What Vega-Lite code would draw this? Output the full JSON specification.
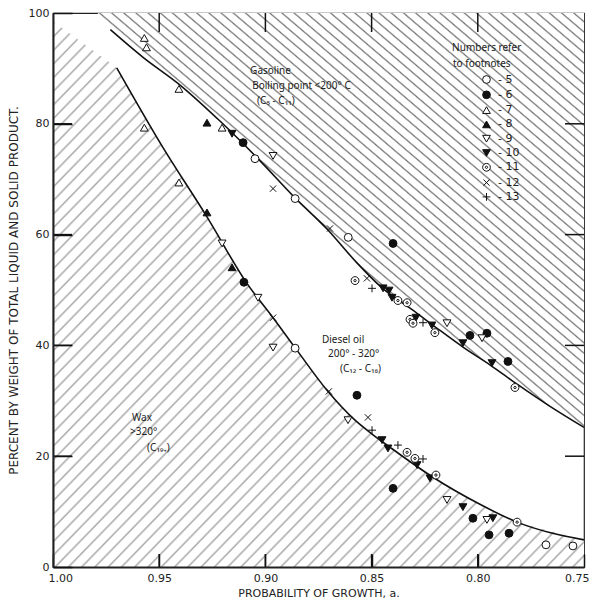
{
"$schema": "https://vega.github.io/schema/vega-lite/v6.json",
"width": 531,
"height": 554,
"autosize": {"type": "none"},
"padding": {"left": 53, "top": 13, "right": 6, "bottom": 33},
"background": "white",
"config": {"view": {"stroke": "#222", "strokeWidth": 1.2}, "font": "DejaVu Sans"},
"datasets": {
"gas": [{"x":0.979,"y":100},{"x":0.973,"y":97.0},{"x":0.9576,"y":92.0},{"x":0.9402,"y":87.0},{"x":0.9214,"y":80.5},{"x":0.9025,"y":73.3},{"x":0.887,"y":67.0},{"x":0.871,"y":61.0},{"x":0.8569,"y":54.9},{"x":0.846,"y":50.7},{"x":0.8286,"y":45.8},{"x":0.8178,"y":42.7},{"x":0.807,"y":39.7},{"x":0.7943,"y":36.5},{"x":0.7815,"y":33.0},{"x":0.766,"y":29.0},{"x":0.75,"y":25.2}],
"upper": [{"x":0.973,"y":97.0},{"x":0.9576,"y":92.0},{"x":0.9402,"y":87.0},{"x":0.9214,"y":80.5},{"x":0.9025,"y":73.3},{"x":0.887,"y":67.0},{"x":0.871,"y":61.0},{"x":0.8569,"y":54.9},{"x":0.846,"y":50.7},{"x":0.8286,"y":45.8},{"x":0.8178,"y":42.7},{"x":0.807,"y":39.7},{"x":0.7943,"y":36.5},{"x":0.7815,"y":33.0},{"x":0.766,"y":29.0},{"x":0.75,"y":25.2}],
"wax": [{"x":1.0,"y":98.5},{"x":0.970,"y":90.1},{"x":0.9482,"y":75.7},{"x":0.9275,"y":63.2},{"x":0.9087,"y":51.2},{"x":0.8964,"y":45.0},{"x":0.8851,"y":39.1},{"x":0.871,"y":31.9},{"x":0.8578,"y":26.5},{"x":0.8498,"y":24.0},{"x":0.8413,"y":21.6},{"x":0.8211,"y":16.2},{"x":0.7999,"y":11.5},{"x":0.7815,"y":8.1},{"x":0.75,"y":4.9}],
"lower": [{"x":0.970,"y":90.1},{"x":0.9482,"y":75.7},{"x":0.9275,"y":63.2},{"x":0.9087,"y":51.2},{"x":0.8964,"y":45.0},{"x":0.8851,"y":39.1},{"x":0.871,"y":31.9},{"x":0.8578,"y":26.5},{"x":0.8498,"y":24.0},{"x":0.8413,"y":21.6},{"x":0.8211,"y":16.2},{"x":0.7999,"y":11.5},{"x":0.7815,"y":8.1},{"x":0.75,"y":4.9}],
"xt": [{"v":0.95,"lo":0,"hi":100},{"v":0.9,"lo":0,"hi":100},{"v":0.85,"lo":0,"hi":100},{"v":0.8,"lo":0,"hi":100}],
"yt": [{"v":20,"l":1.0,"r":0.75},{"v":40,"l":1.0,"r":0.75},{"v":60,"l":1.0,"r":0.75},{"v":80,"l":1.0,"r":0.75}],
"pts": [
{"x":0.9049,"y":73.7,"ref":5},{"x":0.886,"y":66.5,"ref":5},{"x":0.861,"y":59.5,"ref":5},{"x":0.886,"y":39.5,"ref":5},{"x":0.7679,"y":4.0,"ref":5},{"x":0.7552,"y":3.8,"ref":5},
{"x":0.9105,"y":76.6,"ref":6},{"x":0.9101,"y":51.4,"ref":6},{"x":0.8399,"y":58.4,"ref":6},{"x":0.8569,"y":31.0,"ref":6},{"x":0.8037,"y":41.8,"ref":6},{"x":0.7957,"y":42.2,"ref":6},{"x":0.7858,"y":37.1,"ref":6},{"x":0.8399,"y":14.2,"ref":6},{"x":0.8023,"y":8.8,"ref":6},{"x":0.7947,"y":5.8,"ref":6},{"x":0.7853,"y":6.1,"ref":6},
{"x":0.957,"y":95.5,"ref":7},{"x":0.956,"y":93.8,"ref":7},{"x":0.9407,"y":86.3,"ref":7},{"x":0.957,"y":79.3,"ref":7},{"x":0.9204,"y":79.3,"ref":7},{"x":0.9407,"y":69.4,"ref":7},
{"x":0.9275,"y":80.2,"ref":8},{"x":0.9275,"y":64.0,"ref":8},{"x":0.9157,"y":54.1,"ref":8},
{"x":0.8964,"y":74.2,"ref":9},{"x":0.9204,"y":58.4,"ref":9},{"x":0.9035,"y":48.6,"ref":9},{"x":0.8964,"y":39.6,"ref":9},{"x":0.8611,"y":26.5,"ref":9},{"x":0.8145,"y":44.0,"ref":9},{"x":0.798,"y":41.3,"ref":9},{"x":0.8145,"y":12.1,"ref":9},{"x":0.7957,"y":8.5,"ref":9},
{"x":0.9157,"y":78.2,"ref":10},{"x":0.8446,"y":50.3,"ref":10},{"x":0.8418,"y":49.9,"ref":10},{"x":0.8404,"y":48.6,"ref":10},{"x":0.8291,"y":45.0,"ref":10},{"x":0.8216,"y":43.6,"ref":10},{"x":0.807,"y":40.4,"ref":10},{"x":0.7933,"y":36.8,"ref":10},{"x":0.8451,"y":22.9,"ref":10},{"x":0.8423,"y":21.4,"ref":10},{"x":0.8286,"y":18.4,"ref":10},{"x":0.8225,"y":16.0,"ref":10},{"x":0.807,"y":10.8,"ref":10},{"x":0.7929,"y":8.8,"ref":10},
{"x":0.8578,"y":51.7,"ref":11},{"x":0.8376,"y":48.1,"ref":11},{"x":0.8333,"y":47.7,"ref":11},{"x":0.8319,"y":44.7,"ref":11},{"x":0.8305,"y":44.0,"ref":11},{"x":0.8202,"y":42.3,"ref":11},{"x":0.7825,"y":32.4,"ref":11},{"x":0.8333,"y":20.7,"ref":11},{"x":0.8296,"y":19.6,"ref":11},{"x":0.8197,"y":16.6,"ref":11},{"x":0.7815,"y":8.1,"ref":11},
{"x":0.8964,"y":68.3,"ref":12},{"x":0.8522,"y":52.1,"ref":12},{"x":0.8964,"y":45.0,"ref":12},{"x":0.8701,"y":31.7,"ref":12},{"x":0.8517,"y":27.0,"ref":12},{"x":0.8696,"y":61.1,"ref":12},
{"x":0.8498,"y":50.3,"ref":13},{"x":0.8258,"y":44.1,"ref":13},{"x":0.8498,"y":24.7,"ref":13},{"x":0.8376,"y":22.0,"ref":13},{"x":0.8258,"y":19.5,"ref":13}
],
"notes": [
{"t":"Gasoline","x":0.9072,"y":89.5},
{"t":"Boiling point <200° C","x":0.9062,"y":86.9},
{"t":"(C₅ - C₁₁)","x":0.9039,"y":84.2},
{"t":"Diesel oil","x":0.8734,"y":41.0},
{"t":"200° - 320°","x":0.8705,"y":38.5},
{"t":"(C₁₂ - C₁₈)","x":0.8649,"y":35.8},
{"t":"Wax","x":0.9628,"y":26.9},
{"t":">320°","x":0.9637,"y":24.3},
{"t":"(C₁₉₊)","x":0.9557,"y":21.4},
{"t":"Numbers refer","x":0.8121,"y":93.6},
{"t":"to footnotes","x":0.8117,"y":90.8}
]
},
"layer": [
{
"data": {"name": "gas"},
"mark": {"type": "area", "interpolate": "linear", "fill": {"gradient":"linear","x1":0,"y1":1,"x2":1,"y2":0,"stops":[
{"offset":0,"color":"#fff"},{"offset":0.002,"color":"#777"},{"offset":0.004,"color":"#fff"},
{"offset":0.0125,"color":"#fff"},{"offset":0.0145,"color":"#777"},{"offset":0.0165,"color":"#fff"},
{"offset":0.025,"color":"#fff"},{"offset":0.027,"color":"#777"},{"offset":0.029,"color":"#fff"},
{"offset":0.0375,"color":"#fff"},{"offset":0.0395,"color":"#777"},{"offset":0.0415,"color":"#fff"},
{"offset":0.05,"color":"#fff"},{"offset":0.052,"color":"#777"},{"offset":0.054,"color":"#fff"},
{"offset":0.0625,"color":"#fff"},{"offset":0.0645,"color":"#777"},{"offset":0.0665,"color":"#fff"},
{"offset":0.075,"color":"#fff"},{"offset":0.077,"color":"#777"},{"offset":0.079,"color":"#fff"},
{"offset":0.0875,"color":"#fff"},{"offset":0.0895,"color":"#777"},{"offset":0.0915,"color":"#fff"},
{"offset":0.1,"color":"#fff"},{"offset":0.102,"color":"#777"},{"offset":0.104,"color":"#fff"},
{"offset":0.1125,"color":"#fff"},{"offset":0.1145,"color":"#777"},{"offset":0.1165,"color":"#fff"},
{"offset":0.125,"color":"#fff"},{"offset":0.127,"color":"#777"},{"offset":0.129,"color":"#fff"},
{"offset":0.1375,"color":"#fff"},{"offset":0.1395,"color":"#777"},{"offset":0.1415,"color":"#fff"},
{"offset":0.15,"color":"#fff"},{"offset":0.152,"color":"#777"},{"offset":0.154,"color":"#fff"},
{"offset":0.1625,"color":"#fff"},{"offset":0.1645,"color":"#777"},{"offset":0.1665,"color":"#fff"},
{"offset":0.175,"color":"#fff"},{"offset":0.177,"color":"#777"},{"offset":0.179,"color":"#fff"},
{"offset":0.1875,"color":"#fff"},{"offset":0.1895,"color":"#777"},{"offset":0.1915,"color":"#fff"},
{"offset":0.2,"color":"#fff"},{"offset":0.202,"color":"#777"},{"offset":0.204,"color":"#fff"},
{"offset":0.2125,"color":"#fff"},{"offset":0.2145,"color":"#777"},{"offset":0.2165,"color":"#fff"},
{"offset":0.225,"color":"#fff"},{"offset":0.227,"color":"#777"},{"offset":0.229,"color":"#fff"},
{"offset":0.2375,"color":"#fff"},{"offset":0.2395,"color":"#777"},{"offset":0.2415,"color":"#fff"},
{"offset":0.25,"color":"#fff"},{"offset":0.252,"color":"#777"},{"offset":0.254,"color":"#fff"},
{"offset":0.2625,"color":"#fff"},{"offset":0.2645,"color":"#777"},{"offset":0.2665,"color":"#fff"},
{"offset":0.275,"color":"#fff"},{"offset":0.277,"color":"#777"},{"offset":0.279,"color":"#fff"},
{"offset":0.2875,"color":"#fff"},{"offset":0.2895,"color":"#777"},{"offset":0.2915,"color":"#fff"},
{"offset":0.3,"color":"#fff"},{"offset":0.302,"color":"#777"},{"offset":0.304,"color":"#fff"},
{"offset":0.3125,"color":"#fff"},{"offset":0.3145,"color":"#777"},{"offset":0.3165,"color":"#fff"},
{"offset":0.325,"color":"#fff"},{"offset":0.327,"color":"#777"},{"offset":0.329,"color":"#fff"},
{"offset":0.3375,"color":"#fff"},{"offset":0.3395,"color":"#777"},{"offset":0.3415,"color":"#fff"},
{"offset":0.35,"color":"#fff"},{"offset":0.352,"color":"#777"},{"offset":0.354,"color":"#fff"},
{"offset":0.3625,"color":"#fff"},{"offset":0.3645,"color":"#777"},{"offset":0.3665,"color":"#fff"},
{"offset":0.375,"color":"#fff"},{"offset":0.377,"color":"#777"},{"offset":0.379,"color":"#fff"},
{"offset":0.3875,"color":"#fff"},{"offset":0.3895,"color":"#777"},{"offset":0.3915,"color":"#fff"},
{"offset":0.4,"color":"#fff"},{"offset":0.402,"color":"#777"},{"offset":0.404,"color":"#fff"},
{"offset":0.4125,"color":"#fff"},{"offset":0.4145,"color":"#777"},{"offset":0.4165,"color":"#fff"},
{"offset":0.425,"color":"#fff"},{"offset":0.427,"color":"#777"},{"offset":0.429,"color":"#fff"},
{"offset":0.4375,"color":"#fff"},{"offset":0.4395,"color":"#777"},{"offset":0.4415,"color":"#fff"},
{"offset":0.45,"color":"#fff"},{"offset":0.452,"color":"#777"},{"offset":0.454,"color":"#fff"},
{"offset":0.4625,"color":"#fff"},{"offset":0.4645,"color":"#777"},{"offset":0.4665,"color":"#fff"},
{"offset":0.475,"color":"#fff"},{"offset":0.477,"color":"#777"},{"offset":0.479,"color":"#fff"},
{"offset":0.4875,"color":"#fff"},{"offset":0.4895,"color":"#777"},{"offset":0.4915,"color":"#fff"},
{"offset":0.5,"color":"#fff"},{"offset":0.502,"color":"#777"},{"offset":0.504,"color":"#fff"},
{"offset":0.5125,"color":"#fff"},{"offset":0.5145,"color":"#777"},{"offset":0.5165,"color":"#fff"},
{"offset":0.525,"color":"#fff"},{"offset":0.527,"color":"#777"},{"offset":0.529,"color":"#fff"},
{"offset":0.5375,"color":"#fff"},{"offset":0.5395,"color":"#777"},{"offset":0.5415,"color":"#fff"},
{"offset":0.55,"color":"#fff"},{"offset":0.552,"color":"#777"},{"offset":0.554,"color":"#fff"},
{"offset":0.5625,"color":"#fff"},{"offset":0.5645,"color":"#777"},{"offset":0.5665,"color":"#fff"},
{"offset":0.575,"color":"#fff"},{"offset":0.577,"color":"#777"},{"offset":0.579,"color":"#fff"},
{"offset":0.5875,"color":"#fff"},{"offset":0.5895,"color":"#777"},{"offset":0.5915,"color":"#fff"},
{"offset":0.6,"color":"#fff"},{"offset":0.602,"color":"#777"},{"offset":0.604,"color":"#fff"},
{"offset":0.6125,"color":"#fff"},{"offset":0.6145,"color":"#777"},{"offset":0.6165,"color":"#fff"},
{"offset":0.625,"color":"#fff"},{"offset":0.627,"color":"#777"},{"offset":0.629,"color":"#fff"},
{"offset":0.6375,"color":"#fff"},{"offset":0.6395,"color":"#777"},{"offset":0.6415,"color":"#fff"},
{"offset":0.65,"color":"#fff"},{"offset":0.652,"color":"#777"},{"offset":0.654,"color":"#fff"},
{"offset":0.6625,"color":"#fff"},{"offset":0.6645,"color":"#777"},{"offset":0.6665,"color":"#fff"},
{"offset":0.675,"color":"#fff"},{"offset":0.677,"color":"#777"},{"offset":0.679,"color":"#fff"},
{"offset":0.6875,"color":"#fff"},{"offset":0.6895,"color":"#777"},{"offset":0.6915,"color":"#fff"},
{"offset":0.7,"color":"#fff"},{"offset":0.702,"color":"#777"},{"offset":0.704,"color":"#fff"},
{"offset":0.7125,"color":"#fff"},{"offset":0.7145,"color":"#777"},{"offset":0.7165,"color":"#fff"},
{"offset":0.725,"color":"#fff"},{"offset":0.727,"color":"#777"},{"offset":0.729,"color":"#fff"},
{"offset":0.7375,"color":"#fff"},{"offset":0.7395,"color":"#777"},{"offset":0.7415,"color":"#fff"},
{"offset":0.75,"color":"#fff"},{"offset":0.752,"color":"#777"},{"offset":0.754,"color":"#fff"},
{"offset":0.7625,"color":"#fff"},{"offset":0.7645,"color":"#777"},{"offset":0.7665,"color":"#fff"},
{"offset":0.775,"color":"#fff"},{"offset":0.777,"color":"#777"},{"offset":0.779,"color":"#fff"},
{"offset":0.7875,"color":"#fff"},{"offset":0.7895,"color":"#777"},{"offset":0.7915,"color":"#fff"},
{"offset":0.8,"color":"#fff"},{"offset":0.802,"color":"#777"},{"offset":0.804,"color":"#fff"},
{"offset":0.8125,"color":"#fff"},{"offset":0.8145,"color":"#777"},{"offset":0.8165,"color":"#fff"},
{"offset":0.825,"color":"#fff"},{"offset":0.827,"color":"#777"},{"offset":0.829,"color":"#fff"},
{"offset":0.8375,"color":"#fff"},{"offset":0.8395,"color":"#777"},{"offset":0.8415,"color":"#fff"},
{"offset":0.85,"color":"#fff"},{"offset":0.852,"color":"#777"},{"offset":0.854,"color":"#fff"},
{"offset":0.8625,"color":"#fff"},{"offset":0.8645,"color":"#777"},{"offset":0.8665,"color":"#fff"},
{"offset":0.875,"color":"#fff"},{"offset":0.877,"color":"#777"},{"offset":0.879,"color":"#fff"},
{"offset":0.8875,"color":"#fff"},{"offset":0.8895,"color":"#777"},{"offset":0.8915,"color":"#fff"},
{"offset":0.9,"color":"#fff"},{"offset":0.902,"color":"#777"},{"offset":0.904,"color":"#fff"},
{"offset":0.9125,"color":"#fff"},{"offset":0.9145,"color":"#777"},{"offset":0.9165,"color":"#fff"},
{"offset":0.925,"color":"#fff"},{"offset":0.927,"color":"#777"},{"offset":0.929,"color":"#fff"},
{"offset":0.9375,"color":"#fff"},{"offset":0.9395,"color":"#777"},{"offset":0.9415,"color":"#fff"},
{"offset":0.95,"color":"#fff"},{"offset":0.952,"color":"#777"},{"offset":0.954,"color":"#fff"},
{"offset":0.9625,"color":"#fff"},{"offset":0.9645,"color":"#777"},{"offset":0.9665,"color":"#fff"},
{"offset":0.975,"color":"#fff"},{"offset":0.977,"color":"#777"},{"offset":0.979,"color":"#fff"},
{"offset":0.9875,"color":"#fff"},{"offset":0.9895,"color":"#777"},{"offset":0.9915,"color":"#fff"}
]}},
"encoding": {
"x": {"field": "x", "type": "quantitative", "scale": {"domain": [0.75, 1.0], "reverse": true, "nice": false, "zero": false},
"axis": {"orient": "bottom", "zindex": 1, "values": [1.0, 0.95, 0.9, 0.85, 0.8, 0.75], "format": ".2f", "grid": false, "ticks": true, "tickSize": -13, "tickWidth": 1.5, "tickColor": "#111", "domainWidth": 2, "domainColor": "#222", "labelPadding": 18, "labelFontSize": 11, "labelColor": "#222", "labelFlush": true, "labelFlushOffset": 5, "title": "PROBABILITY OF GROWTH, a.", "titleFontSize": 11, "titleFontWeight": "normal", "titleColor": "#222", "titlePadding": 4}},
"y": {"field": "y", "type": "quantitative", "scale": {"domain": [0, 100], "nice": false, "zero": false},
"axis": {"orient": "left", "zindex": 1, "values": [0, 20, 40, 60, 80, 100], "grid": false, "ticks": true, "tickSize": -19, "tickWidth": 1.5, "tickColor": "#111", "domainWidth": 2, "domainColor": "#222", "labelPadding": 23, "labelFontSize": 11, "labelColor": "#222", "labelFlush": false, "title": "PERCENT BY WEIGHT OF TOTAL LIQUID AND SOLID PRODUCT.", "titleFontSize": 12, "titleFontWeight": "normal", "titleColor": "#222", "titlePadding": 8}},
"y2": {"datum": 100}
}
},
{
"data": {"name": "wax"},
"mark": {"type": "area", "interpolate": "linear", "fill": {"gradient":"linear","x1":0,"y1":0,"x2":1,"y2":1,"stops":[
{"offset":0,"color":"#fff"},{"offset":0.002,"color":"#aaa"},{"offset":0.004,"color":"#fff"},
{"offset":0.0125,"color":"#fff"},{"offset":0.0145,"color":"#aaa"},{"offset":0.0165,"color":"#fff"},
{"offset":0.025,"color":"#fff"},{"offset":0.027,"color":"#aaa"},{"offset":0.029,"color":"#fff"},
{"offset":0.0375,"color":"#fff"},{"offset":0.0395,"color":"#aaa"},{"offset":0.0415,"color":"#fff"},
{"offset":0.05,"color":"#fff"},{"offset":0.052,"color":"#aaa"},{"offset":0.054,"color":"#fff"},
{"offset":0.0625,"color":"#fff"},{"offset":0.0645,"color":"#aaa"},{"offset":0.0665,"color":"#fff"},
{"offset":0.075,"color":"#fff"},{"offset":0.077,"color":"#aaa"},{"offset":0.079,"color":"#fff"},
{"offset":0.0875,"color":"#fff"},{"offset":0.0895,"color":"#aaa"},{"offset":0.0915,"color":"#fff"},
{"offset":0.1,"color":"#fff"},{"offset":0.102,"color":"#aaa"},{"offset":0.104,"color":"#fff"},
{"offset":0.1125,"color":"#fff"},{"offset":0.1145,"color":"#aaa"},{"offset":0.1165,"color":"#fff"},
{"offset":0.125,"color":"#fff"},{"offset":0.127,"color":"#aaa"},{"offset":0.129,"color":"#fff"},
{"offset":0.1375,"color":"#fff"},{"offset":0.1395,"color":"#aaa"},{"offset":0.1415,"color":"#fff"},
{"offset":0.15,"color":"#fff"},{"offset":0.152,"color":"#aaa"},{"offset":0.154,"color":"#fff"},
{"offset":0.1625,"color":"#fff"},{"offset":0.1645,"color":"#aaa"},{"offset":0.1665,"color":"#fff"},
{"offset":0.175,"color":"#fff"},{"offset":0.177,"color":"#aaa"},{"offset":0.179,"color":"#fff"},
{"offset":0.1875,"color":"#fff"},{"offset":0.1895,"color":"#aaa"},{"offset":0.1915,"color":"#fff"},
{"offset":0.2,"color":"#fff"},{"offset":0.202,"color":"#aaa"},{"offset":0.204,"color":"#fff"},
{"offset":0.2125,"color":"#fff"},{"offset":0.2145,"color":"#aaa"},{"offset":0.2165,"color":"#fff"},
{"offset":0.225,"color":"#fff"},{"offset":0.227,"color":"#aaa"},{"offset":0.229,"color":"#fff"},
{"offset":0.2375,"color":"#fff"},{"offset":0.2395,"color":"#aaa"},{"offset":0.2415,"color":"#fff"},
{"offset":0.25,"color":"#fff"},{"offset":0.252,"color":"#aaa"},{"offset":0.254,"color":"#fff"},
{"offset":0.2625,"color":"#fff"},{"offset":0.2645,"color":"#aaa"},{"offset":0.2665,"color":"#fff"},
{"offset":0.275,"color":"#fff"},{"offset":0.277,"color":"#aaa"},{"offset":0.279,"color":"#fff"},
{"offset":0.2875,"color":"#fff"},{"offset":0.2895,"color":"#aaa"},{"offset":0.2915,"color":"#fff"},
{"offset":0.3,"color":"#fff"},{"offset":0.302,"color":"#aaa"},{"offset":0.304,"color":"#fff"},
{"offset":0.3125,"color":"#fff"},{"offset":0.3145,"color":"#aaa"},{"offset":0.3165,"color":"#fff"},
{"offset":0.325,"color":"#fff"},{"offset":0.327,"color":"#aaa"},{"offset":0.329,"color":"#fff"},
{"offset":0.3375,"color":"#fff"},{"offset":0.3395,"color":"#aaa"},{"offset":0.3415,"color":"#fff"},
{"offset":0.35,"color":"#fff"},{"offset":0.352,"color":"#aaa"},{"offset":0.354,"color":"#fff"},
{"offset":0.3625,"color":"#fff"},{"offset":0.3645,"color":"#aaa"},{"offset":0.3665,"color":"#fff"},
{"offset":0.375,"color":"#fff"},{"offset":0.377,"color":"#aaa"},{"offset":0.379,"color":"#fff"},
{"offset":0.3875,"color":"#fff"},{"offset":0.3895,"color":"#aaa"},{"offset":0.3915,"color":"#fff"},
{"offset":0.4,"color":"#fff"},{"offset":0.402,"color":"#aaa"},{"offset":0.404,"color":"#fff"},
{"offset":0.4125,"color":"#fff"},{"offset":0.4145,"color":"#aaa"},{"offset":0.4165,"color":"#fff"},
{"offset":0.425,"color":"#fff"},{"offset":0.427,"color":"#aaa"},{"offset":0.429,"color":"#fff"},
{"offset":0.4375,"color":"#fff"},{"offset":0.4395,"color":"#aaa"},{"offset":0.4415,"color":"#fff"},
{"offset":0.45,"color":"#fff"},{"offset":0.452,"color":"#aaa"},{"offset":0.454,"color":"#fff"},
{"offset":0.4625,"color":"#fff"},{"offset":0.4645,"color":"#aaa"},{"offset":0.4665,"color":"#fff"},
{"offset":0.475,"color":"#fff"},{"offset":0.477,"color":"#aaa"},{"offset":0.479,"color":"#fff"},
{"offset":0.4875,"color":"#fff"},{"offset":0.4895,"color":"#aaa"},{"offset":0.4915,"color":"#fff"},
{"offset":0.5,"color":"#fff"},{"offset":0.502,"color":"#aaa"},{"offset":0.504,"color":"#fff"},
{"offset":0.5125,"color":"#fff"},{"offset":0.5145,"color":"#aaa"},{"offset":0.5165,"color":"#fff"},
{"offset":0.525,"color":"#fff"},{"offset":0.527,"color":"#aaa"},{"offset":0.529,"color":"#fff"},
{"offset":0.5375,"color":"#fff"},{"offset":0.5395,"color":"#aaa"},{"offset":0.5415,"color":"#fff"},
{"offset":0.55,"color":"#fff"},{"offset":0.552,"color":"#aaa"},{"offset":0.554,"color":"#fff"},
{"offset":0.5625,"color":"#fff"},{"offset":0.5645,"color":"#aaa"},{"offset":0.5665,"color":"#fff"},
{"offset":0.575,"color":"#fff"},{"offset":0.577,"color":"#aaa"},{"offset":0.579,"color":"#fff"},
{"offset":0.5875,"color":"#fff"},{"offset":0.5895,"color":"#aaa"},{"offset":0.5915,"color":"#fff"},
{"offset":0.6,"color":"#fff"},{"offset":0.602,"color":"#aaa"},{"offset":0.604,"color":"#fff"},
{"offset":0.6125,"color":"#fff"},{"offset":0.6145,"color":"#aaa"},{"offset":0.6165,"color":"#fff"},
{"offset":0.625,"color":"#fff"},{"offset":0.627,"color":"#aaa"},{"offset":0.629,"color":"#fff"},
{"offset":0.6375,"color":"#fff"},{"offset":0.6395,"color":"#aaa"},{"offset":0.6415,"color":"#fff"},
{"offset":0.65,"color":"#fff"},{"offset":0.652,"color":"#aaa"},{"offset":0.654,"color":"#fff"},
{"offset":0.6625,"color":"#fff"},{"offset":0.6645,"color":"#aaa"},{"offset":0.6665,"color":"#fff"},
{"offset":0.675,"color":"#fff"},{"offset":0.677,"color":"#aaa"},{"offset":0.679,"color":"#fff"},
{"offset":0.6875,"color":"#fff"},{"offset":0.6895,"color":"#aaa"},{"offset":0.6915,"color":"#fff"},
{"offset":0.7,"color":"#fff"},{"offset":0.702,"color":"#aaa"},{"offset":0.704,"color":"#fff"},
{"offset":0.7125,"color":"#fff"},{"offset":0.7145,"color":"#aaa"},{"offset":0.7165,"color":"#fff"},
{"offset":0.725,"color":"#fff"},{"offset":0.727,"color":"#aaa"},{"offset":0.729,"color":"#fff"},
{"offset":0.7375,"color":"#fff"},{"offset":0.7395,"color":"#aaa"},{"offset":0.7415,"color":"#fff"},
{"offset":0.75,"color":"#fff"},{"offset":0.752,"color":"#aaa"},{"offset":0.754,"color":"#fff"},
{"offset":0.7625,"color":"#fff"},{"offset":0.7645,"color":"#aaa"},{"offset":0.7665,"color":"#fff"},
{"offset":0.775,"color":"#fff"},{"offset":0.777,"color":"#aaa"},{"offset":0.779,"color":"#fff"},
{"offset":0.7875,"color":"#fff"},{"offset":0.7895,"color":"#aaa"},{"offset":0.7915,"color":"#fff"},
{"offset":0.8,"color":"#fff"},{"offset":0.802,"color":"#aaa"},{"offset":0.804,"color":"#fff"},
{"offset":0.8125,"color":"#fff"},{"offset":0.8145,"color":"#aaa"},{"offset":0.8165,"color":"#fff"},
{"offset":0.825,"color":"#fff"},{"offset":0.827,"color":"#aaa"},{"offset":0.829,"color":"#fff"},
{"offset":0.8375,"color":"#fff"},{"offset":0.8395,"color":"#aaa"},{"offset":0.8415,"color":"#fff"},
{"offset":0.85,"color":"#fff"},{"offset":0.852,"color":"#aaa"},{"offset":0.854,"color":"#fff"},
{"offset":0.8625,"color":"#fff"},{"offset":0.8645,"color":"#aaa"},{"offset":0.8665,"color":"#fff"},
{"offset":0.875,"color":"#fff"},{"offset":0.877,"color":"#aaa"},{"offset":0.879,"color":"#fff"},
{"offset":0.8875,"color":"#fff"},{"offset":0.8895,"color":"#aaa"},{"offset":0.8915,"color":"#fff"},
{"offset":0.9,"color":"#fff"},{"offset":0.902,"color":"#aaa"},{"offset":0.904,"color":"#fff"},
{"offset":0.9125,"color":"#fff"},{"offset":0.9145,"color":"#aaa"},{"offset":0.9165,"color":"#fff"},
{"offset":0.925,"color":"#fff"},{"offset":0.927,"color":"#aaa"},{"offset":0.929,"color":"#fff"},
{"offset":0.9375,"color":"#fff"},{"offset":0.9395,"color":"#aaa"},{"offset":0.9415,"color":"#fff"},
{"offset":0.95,"color":"#fff"},{"offset":0.952,"color":"#aaa"},{"offset":0.954,"color":"#fff"},
{"offset":0.9625,"color":"#fff"},{"offset":0.9645,"color":"#aaa"},{"offset":0.9665,"color":"#fff"},
{"offset":0.975,"color":"#fff"},{"offset":0.977,"color":"#aaa"},{"offset":0.979,"color":"#fff"},
{"offset":0.9875,"color":"#fff"},{"offset":0.9895,"color":"#aaa"},{"offset":0.9915,"color":"#fff"}
]}},
"encoding": {
"x": {"field": "x", "type": "quantitative"},
"y": {"field": "y", "type": "quantitative"},
"y2": {"datum": 0}
}
},
{
"data": {"name": "xt"},
"mark": {"type": "point", "shape": "M0,0L0,-2", "size": 169, "filled": false, "stroke": "#111", "strokeWidth": 1.5, "opacity": 1},
"encoding": {
"x": {"field": "v", "type": "quantitative"},
"y": {"field": "lo", "type": "quantitative"}
}
},
{
"data": {"name": "xt"},
"mark": {"type": "point", "shape": "M0,0L0,2", "size": 361, "filled": false, "stroke": "#111", "strokeWidth": 1.5, "opacity": 1},
"encoding": {
"x": {"field": "v", "type": "quantitative"},
"y": {"field": "hi", "type": "quantitative"}
}
},
{
"data": {"name": "yt"},
"mark": {"type": "point", "shape": "M0,0L2,0", "size": 361, "filled": false, "stroke": "#111", "strokeWidth": 1.5, "opacity": 1},
"encoding": {
"y": {"field": "v", "type": "quantitative"},
"x": {"field": "l", "type": "quantitative"}
}
},
{
"data": {"name": "yt"},
"mark": {"type": "point", "shape": "M0,0L-2,0", "size": 361, "filled": false, "stroke": "#111", "strokeWidth": 1.5, "opacity": 1},
"encoding": {
"y": {"field": "v", "type": "quantitative"},
"x": {"field": "r", "type": "quantitative"}
}
},
{
"data": {"name": "upper"},
"mark": {"type": "line", "interpolate": "monotone", "color": "#111", "strokeWidth": 1.6},
"encoding": {
"x": {"field": "x", "type": "quantitative"},
"y": {"field": "y", "type": "quantitative"}
}
},
{
"data": {"name": "lower"},
"mark": {"type": "line", "interpolate": "monotone", "color": "#111", "strokeWidth": 1.6},
"encoding": {
"x": {"field": "x", "type": "quantitative"},
"y": {"field": "y", "type": "quantitative"}
}
},
{
"data": {"name": "pts"},
"mark": {"type": "point", "filled": true, "stroke": "#111", "strokeWidth": 1, "size": 62, "opacity": 1},
"encoding": {
"x": {"field": "x", "type": "quantitative"},
"y": {"field": "y", "type": "quantitative"},
"shape": {"field": "ref", "type": "nominal",
"scale": {"domain": [5, 6, 7, 8, 9, 10, 11, 12, 13], "range": ["circle", "circle", "triangle-up", "triangle-up", "triangle-down", "triangle-down", "M-1,0A1,1,0,1,1,1,0A1,1,0,1,1,-1,0ZM-0.3,0A0.3,0.3,0,1,1,0.3,0A0.3,0.3,0,1,1,-0.3,0Z", "M-0.8,-0.8L0.8,0.8M-0.8,0.8L0.8,-0.8", "M-1,0L1,0M0,-1L0,1"]},
"legend": {"orient": "none", "legendX": 428, "legendY": 61, "title": null, "padding": 0, "labelExpr": "'- ' + datum.label", "labelFontSize": 11, "labelColor": "#222", "symbolSize": 60, "symbolStrokeWidth": 1, "symbolOpacity": 1, "rowPadding": 2.3, "labelOffset": 6}},
"fill": {"field": "ref", "type": "nominal",
"scale": {"domain": [5, 6, 7, 8, 9, 10, 11, 12, 13], "range": ["#fff", "#111", "#fff", "#111", "#fff", "#111", "#fff", "#fff", "#fff"]},
"legend": {"orient": "none", "legendX": 428, "legendY": 61, "title": null, "padding": 0, "labelExpr": "'- ' + datum.label", "labelFontSize": 11, "labelColor": "#222", "symbolSize": 60, "symbolStrokeWidth": 1, "symbolOpacity": 1, "rowPadding": 2.3, "labelOffset": 6}},
"stroke": {"field": "ref", "type": "nominal",
"scale": {"domain": [5, 6, 7, 8, 9, 10, 11, 12, 13], "range": ["#111", "#111", "#111", "#111", "#111", "#111", "#111", "#111", "#111"]},
"legend": {"orient": "none", "legendX": 428, "legendY": 61, "title": null, "padding": 0, "labelExpr": "'- ' + datum.label", "labelFontSize": 11, "labelColor": "#222", "symbolSize": 60, "symbolStrokeWidth": 1, "symbolOpacity": 1, "rowPadding": 2.3, "labelOffset": 6}}
}
},
{
"data": {"name": "notes"},
"mark": {"type": "text", "align": "left", "baseline": "middle", "fontSize": 10, "font": "Noto Sans", "color": "#222"},
"encoding": {
"x": {"field": "x", "type": "quantitative"},
"y": {"field": "y", "type": "quantitative"},
"text": {"field": "t"}
}
}
]
}
